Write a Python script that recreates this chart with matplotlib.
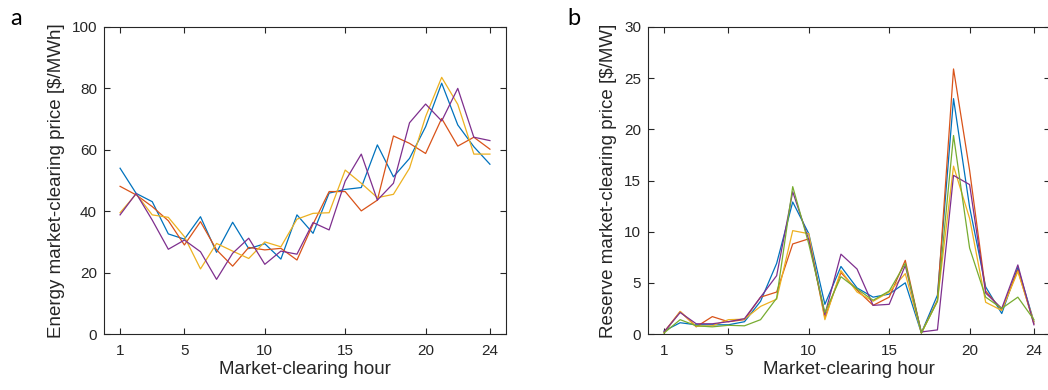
import matplotlib
matplotlib.use("Agg")
import matplotlib.pyplot as plt

# MATLAB default line colours
blue, orange, yellow, purple, green = "#0072BD", "#D95319", "#EDB120", "#7E2F8E", "#77AC30"

hours = list(range(1, 25))
xticks = [1, 5, 10, 15, 20, 24]

# panel a: energy market-clearing price [$/MWh]
energy_blue = [54.0, 45.8, 43.1, 32.6, 30.9, 38.2, 26.6, 36.4, 27.8, 29.4, 24.4, 38.8,
               32.8, 45.9, 47.1, 47.7, 61.6, 51.2, 57.2, 67.5, 81.7, 68.1, 61.0, 55.3]
energy_orange = [48.1, 45.3, 41.5, 36.9, 29.0, 36.6, 27.4, 22.1, 28.2, 27.4, 27.9, 24.1,
                 35.8, 46.4, 46.4, 40.1, 43.6, 64.5, 62.1, 58.8, 70.2, 61.2, 64.1, 60.2]
energy_yellow = [39.5, 45.6, 38.8, 38.0, 31.7, 21.2, 29.5, 27.0, 24.6, 30.0, 28.4, 37.4,
                 39.3, 39.5, 53.4, 49.1, 44.4, 45.5, 54.0, 70.8, 83.6, 74.8, 58.6, 58.6]
energy_purple = [38.8, 45.8, 37.1, 27.6, 30.6, 26.8, 17.8, 26.3, 31.2, 22.7, 27.0, 26.0,
                 36.3, 33.9, 49.8, 58.6, 43.6, 49.1, 68.8, 74.9, 69.4, 80.0, 64.1, 63.0]

# panel b: reserve market-clearing price [$/MW]
reserve_blue = [0.3, 1.1, 0.9, 0.9, 0.9, 1.2, 3.2, 6.9, 12.9, 9.8, 2.9, 6.6,
                4.5, 3.6, 3.9, 5.0, 0.1, 3.8, 23.0, 12.4, 4.6, 2.0, 6.5, 1.2]
reserve_orange = [0.2, 2.2, 0.7, 1.7, 1.2, 1.4, 3.6, 4.1, 8.8, 9.3, 1.6, 6.0,
                  4.3, 2.8, 3.6, 7.2, 0.1, 3.3, 25.9, 16.0, 4.2, 2.35, 6.25, 1.0]
reserve_yellow = [0.1, 2.2, 0.75, 0.8, 1.4, 1.45, 2.7, 3.4, 10.1, 9.8, 1.4, 6.2,
                  4.1, 3.2, 4.1, 5.9, 0.1, 3.2, 16.4, 11.3, 3.1, 2.3, 6.1, 1.2]
reserve_purple = [0.2, 2.1, 1.0, 1.0, 1.2, 1.5, 3.6, 5.7, 13.9, 9.2, 1.9, 7.8,
                  6.35, 2.8, 2.9, 6.7, 0.2, 0.4, 15.5, 14.6, 4.0, 2.5, 6.75, 0.9]
reserve_green = [0.1, 1.4, 0.8, 0.7, 0.85, 0.8, 1.4, 3.5, 14.4, 8.8, 2.1, 5.6,
                 4.4, 3.3, 4.2, 6.9, 0.1, 3.2, 19.4, 8.4, 3.6, 2.5, 3.6, 1.4]

ink = "#262626"
plt.rcParams["font.family"] = ["Liberation Sans", "DejaVu Sans"]

fig = plt.figure(figsize=(10.48, 3.9), dpi=100)
ax_a = fig.add_axes([104 / 1048, 56 / 390, 402 / 1048, 307 / 390])
ax_b = fig.add_axes([648 / 1048, 56 / 390, 402 / 1048, 307 / 390])


def style(ax, ymax, ystep, ylabel):
    ax.set_xlim(0, 25)
    ax.set_ylim(0, ymax)
    ax.set_xticks(xticks)
    ax.set_yticks(range(0, ymax + 1, ystep))
    ax.tick_params(direction="in", top=True, right=True, length=4.5, width=0.8,
                   colors=ink, labelsize=11, pad=5)
    ax.tick_params(axis="x", pad=7)
    for s in ax.spines.values():
        s.set_color(ink)
        s.set_linewidth(0.8)
    ax.set_xlabel("Market-clearing hour", fontsize=13.5, color=ink, labelpad=2)
    ax.set_ylabel(ylabel, fontsize=13.5, color=ink, labelpad=5)


for y, c in [(energy_blue, blue), (energy_orange, orange),
             (energy_yellow, yellow), (energy_purple, purple)]:
    ax_a.plot(hours, y, color=c, lw=0.9)
style(ax_a, 100, 20, "Energy market-clearing price [$/MWh]")

for y, c in [(reserve_blue, blue), (reserve_orange, orange), (reserve_yellow, yellow),
             (reserve_purple, purple), (reserve_green, green)]:
    ax_b.plot(hours, y, color=c, lw=0.9)
style(ax_b, 30, 5, "Reserve market-clearing price [$/MW]")

fig.text(10 / 1048, 1 - 25 / 390, "a", fontsize=17, family=["Lato", "DejaVu Sans"])
fig.text(567 / 1048, 1 - 25 / 390, "b", fontsize=17, family=["Lato", "DejaVu Sans"])

fig.savefig("out.png", dpi=100)
